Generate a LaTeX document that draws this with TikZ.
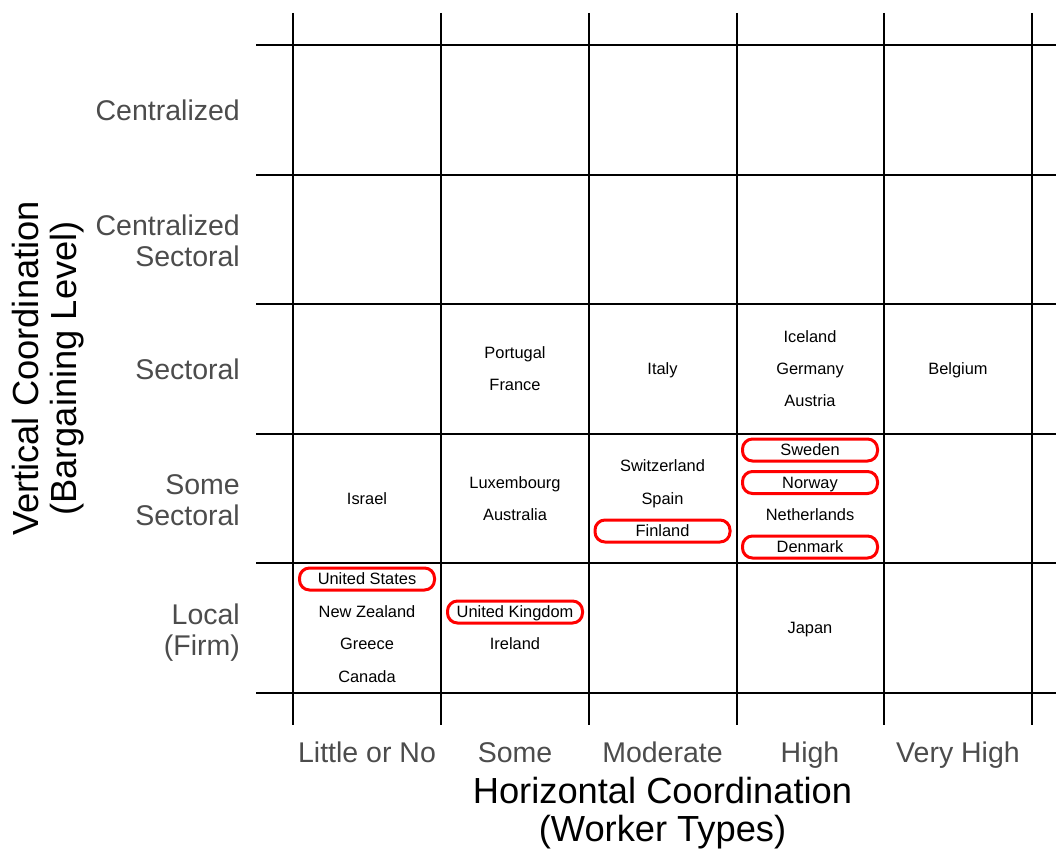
\documentclass[tikz,border=0pt]{standalone}
\usepackage{fontspec}
\setmainfont{Liberation Sans}
\usepackage{tikz}
\definecolor{labelgray}{rgb}{0.3,0.3,0.3}

\begin{document}
\begin{tikzpicture}[
  x=1pt,y=-1pt,
  rule/.style={line width=2pt,black},
  country/.style={font={\fontsize{16.4}{18}\selectfont},inner sep=0pt,
    text height=11.8pt,text depth=0pt},
  hilite/.style={country,draw=red,line width=3pt,
    minimum width=135pt,minimum height=22pt,rounded corners=10pt},
  level/.style={anchor=east,align=right,text=labelgray,inner sep=0pt,
    text depth=0pt,font={\fontsize{28.5}{31}\selectfont}},
  degree/.style={text=labelgray,inner sep=0pt,
    text height=20.4pt,text depth=0pt,
    font={\fontsize{28.5}{31}\selectfont}},
  axis/.style={align=center,inner sep=0pt,text depth=0pt,
    font={\fontsize{36.3}{38.5}\selectfont}},
  ]
  \useasboundingbox (0,0) rectangle (1056,850);
  % Vertical lines
  \draw[rule](293,13)--(293,725);
  \draw[rule](441,13)--(441,725);
  \draw[rule](589,13)--(589,725);
  \draw[rule](737,13)--(737,725);
  \draw[rule](884,13)--(884,725);
  \draw[rule](1032,13)--(1032,725);
  % Horizontal lines
  \draw[rule](256,45)--(1056,45);
  \draw[rule](256,175)--(1056,175);
  \draw[rule](256,304)--(1056,304);
  \draw[rule](256,434)--(1056,434);
  \draw[rule](256,563)--(1056,563);
  \draw[rule](256,693)--(1056,693);
  % Bargaining levels
  \node[level,text height=20.4pt] (centr) at (240,110) {Centralized};
  \node[level] (censec) at (240,240.5) {Centralized\\Sectoral};
  \node[level,text height=20.4pt] (sect) at (240,369) {Sectoral};
  \node[level] (somesec) at (240,500) {Some\\Sectoral};
  \node[level] (local) at (240,629.5) {Local\\(Firm)};
  % Worker types
  \node[degree] (little) at (367,752) {Little or No};
  \node[degree] (some) at (515,752) {Some};
  \node[degree] (moder) at (662.5,752) {Moderate};
  \node[degree] (high) at (810,752) {High};
  \node[degree] (vhigh) at (958,752) {Very High};
  % Axis titles
  \node[axis] (htitle) at (662.5,809.2)
  {Horizontal Coordination\\(Worker Types)};
  \node[axis,rotate=90] (vtitle) at (44.3,368.5)
  {Vertical Coordination\\(Bargaining Level)};
  % Sectoral
  \node[country] (portugal) at (515,353) {Portugal};
  \node[country] (france) at (515,385) {France};
  \node[country] (italy) at (662.5,369) {Italy};
  \node[country] (iceland) at (810,337) {Iceland};
  \node[country] (germany) at (810,369) {Germany};
  \node[country] (austria) at (810,401) {Austria};
  \node[country] (belgium) at (958,369) {Belgium};
  % Some sectoral
  \node[country] (israel) at (367,499) {Israel};
  \node[country] (luxem) at (515,482.5) {Luxembourg};
  \node[country] (austral) at (515,515) {Australia};
  \node[country] (switz) at (662.5,466) {Switzerland};
  \node[country] (spain) at (662.5,498.5) {Spain};
  \node[hilite] (finland) at (662.5,531) {Finland};
  \node[hilite] (sweden) at (810,450) {Sweden};
  \node[hilite] (norway) at (810,482.5) {Norway};
  \node[country] (nether) at (810,515) {Netherlands};
  \node[hilite] (denmark) at (810,547) {Denmark};
  % Local
  \node[hilite] (usa) at (367,579) {United States};
  \node[country] (nz) at (367,611.5) {New Zealand};
  \node[country] (greece) at (367,644) {Greece};
  \node[country] (canada) at (367,676.5) {Canada};
  \node[hilite] (uk) at (515,612) {United Kingdom};
  \node[country] (ireland) at (515,644) {Ireland};
  \node[country] (japan) at (810,628) {Japan};
\end{tikzpicture}
\end{document}
